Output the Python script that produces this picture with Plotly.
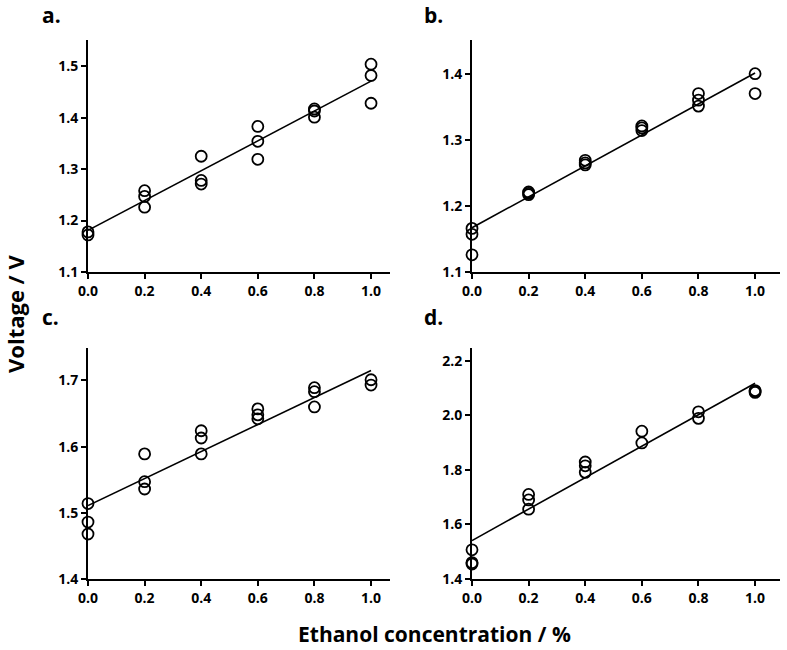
import plotly.graph_objects as go

# ---- data ----
x_conc = [0.0, 0.2, 0.4, 0.6, 0.8, 1.0]

a_x = [0, 0, 0.2, 0.2, 0.2, 0.4, 0.4, 0.4, 0.6, 0.6, 0.6, 0.8, 0.8, 0.8, 1.0, 1.0, 1.0]
a_y = [1.178, 1.172, 1.258, 1.247, 1.226, 1.325, 1.278, 1.271, 1.383, 1.354, 1.319, 1.417, 1.413, 1.401, 1.504, 1.482, 1.428]
a_fit = [1.181, 1.471]

b_x = [0, 0, 0, 0.2, 0.2, 0.2, 0.4, 0.4, 0.4, 0.6, 0.6, 0.6, 0.8, 0.8, 0.8, 1.0, 1.0]
b_y = [1.166, 1.157, 1.126, 1.221, 1.217, 1.219, 1.269, 1.262, 1.265, 1.321, 1.314, 1.318, 1.370, 1.360, 1.351, 1.400, 1.370]
b_fit = [1.167, 1.401]

c_x = [0, 0, 0, 0.2, 0.2, 0.2, 0.4, 0.4, 0.4, 0.6, 0.6, 0.6, 0.8, 0.8, 0.8, 1.0, 1.0]
c_y = [1.514, 1.486, 1.468, 1.589, 1.547, 1.536, 1.624, 1.613, 1.589, 1.657, 1.648, 1.642, 1.689, 1.683, 1.660, 1.701, 1.693]
c_fit = [1.511, 1.715]

d_x = [0, 0, 0, 0.2, 0.2, 0.2, 0.4, 0.4, 0.4, 0.6, 0.6, 0.8, 0.8, 1.0, 1.0, 1.0]
d_y = [1.507, 1.460, 1.455, 1.710, 1.690, 1.656, 1.829, 1.815, 1.791, 1.942, 1.899, 2.013, 1.989, 2.091, 2.084, 2.088]
d_fit = [1.541, 2.118]

panel_labels = ["a.", "b.", "c.", "d."]
y_ranges = [[1.1, 1.551], [1.1, 1.451], [1.4, 1.749], [1.4, 2.247]]
y_ticks = [[1.1, 1.2, 1.3, 1.4, 1.5], [1.1, 1.2, 1.3, 1.4], [1.4, 1.5, 1.6, 1.7], [1.4, 1.6, 1.8, 2.0, 2.2]]
x_ranges = [[0, 1.067], [0, 1.088], [0, 1.067], [0, 1.088]]

FONT = "Open Sans"
W, H = 787, 650
# pixel boxes in screen coords (left, right, top, bottom)
boxes = [(88, 390, 40, 272), (472, 780, 40, 272), (88, 390, 348, 579), (472, 780, 348, 579)]


def px(x):
    return x / W


def py(y):
    return 1 - y / H


fig = go.Figure()
datasets = [(a_x, a_y, a_fit), (b_x, b_y, b_fit), (c_x, c_y, c_fit), (d_x, d_y, d_fit)]
for i, (xs, ys, fit) in enumerate(datasets):
    sx = "" if i == 0 else str(i + 1)
    fig.add_trace(go.Scatter(x=[0.0, 1.0], y=fit, mode="lines",
                             line=dict(color="black", width=1.6),
                             xaxis="x" + sx, yaxis="y" + sx, showlegend=False, cliponaxis=False))
    fig.add_trace(go.Scatter(x=xs, y=ys, mode="markers",
                             marker=dict(symbol="circle-open", size=11, color="black",
                                         line=dict(width=1.8, color="black")),
                             xaxis="x" + sx, yaxis="y" + sx, showlegend=False, cliponaxis=False))

layout = dict(width=W, height=H, margin=dict(l=0, r=0, t=0, b=0),
              paper_bgcolor="white", plot_bgcolor="white",
              font=dict(family=FONT, color="black"))
for i, (l, r, t, b) in enumerate(boxes):
    sx = "" if i == 0 else str(i + 1)
    common = dict(showgrid=False, zeroline=False, showline=True, linecolor="black", linewidth=1.8,
                  ticks="outside", ticklen=5, tickwidth=1.6, tickcolor="black", automargin=False,
                  tickfont=dict(family=FONT, size=14, color="black", weight="bold"))
    layout["xaxis" + sx] = dict(common, domain=[px(l), px(r)], range=x_ranges[i],
                                tickvals=x_conc, ticktext=[f"{v:.1f}" for v in x_conc],
                                anchor="y" + sx)
    layout["yaxis" + sx] = dict(common, domain=[py(b), py(t)], range=y_ranges[i],
                                tickvals=y_ticks[i], ticktext=[f"{v:.1f}" for v in y_ticks[i]],
                                anchor="x" + sx)
fig.update_layout(**layout)

label_pos = [(40, 15), (422, 15), (40, 317), (422, 317)]
for lab, (lx, ly) in zip(panel_labels, label_pos):
    fig.add_annotation(text=lab, x=px(lx), y=py(ly), xref="paper", yref="paper",
                       showarrow=False, xanchor="left", yanchor="middle",
                       font=dict(family=FONT, size=21, color="black", weight="bold"))

fig.add_annotation(text="Voltage / V", x=px(15), y=py(314), xref="paper", yref="paper",
                   showarrow=False, textangle=-90, xanchor="center", yanchor="middle",
                   font=dict(family=FONT, size=22, color="black", weight="bold"))
fig.add_annotation(text="Ethanol concentration / %", x=px(434), y=py(634), xref="paper", yref="paper",
                   showarrow=False, xanchor="center", yanchor="middle",
                   font=dict(family=FONT, size=21, color="black", weight="bold"))

fig.write_html("out.html", config={"displayModeBar": False},
               post_script="document.body.style.margin='0';document.body.style.overflow='hidden';")
